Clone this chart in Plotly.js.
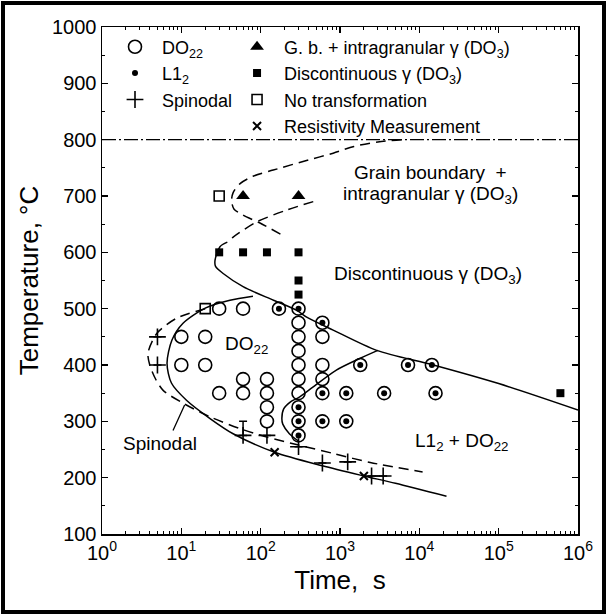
<!DOCTYPE html>
<html><head><meta charset="utf-8">
<script src="https://cdn.plot.ly/plotly-3.0.1.min.js"></script>
<style>
html,body{margin:0;padding:0;background:#fff;}
#chart{width:607px;height:615px;}
#frame{position:absolute;left:1px;top:1px;width:597px;height:605px;border:4px solid #000;pointer-events:none;}
</style></head><body>
<div id="chart"></div><div id="frame"></div>
<script>
// ---- data (time in s, temperature in °C) ----
const do22Time = [10,10,20,20,30,30,60,60,60,120,120,120,120,170,300,300,300,300,300,300,300,300,300,300,600,600,600,600,600,600,1200,1200,1800,3600,7200,14400,16000];
const do22Temp = [450,400,450,400,500,350,500,375,350,375,350,325,300,500,500,475,450,425,400,375,350,325,300,275,475,450,400,375,350,300,350,300,400,350,400,400,350];
const l12Time = [170,300,300,300,300,600,600,600,1200,1200,1800,3600,7200,14400,16000];
const l12Temp = [500,500,325,300,275,475,350,300,350,300,400,350,400,400,350];
const spinTime = [5,5,60,120,300,600,1250,2500,3500];
const spinTemp = [450,400,275,275,255,226,228,203,203];
const spinBar = [0,0,25,0,0,0,0,0,0];
const gbTime = [60,300];
const gbTemp = [700,700];
const discTime = [30,60,120,300,300,300,600000];
const discTemp = [600,600,600,600,550,525,350];
const noTrTime = [30,20];
const noTrTemp = [700,500];
const resTime = [150,2000];
const resTemp = [245,203];
// boundary curves
const gbCurveTime = [6000,3000,1500,820,400,144,80,55,45,43,46,60,98,190];
const gbCurveTemp = [800,796,788,776,764,746,735,722,706,692,677,666,652,630];
const discDashTime = [460,213,89,45,38];
const discDashTemp = [690,675,654,627,618];
const discSolidTime = [38,30.7,26.6,27,34,60,145,285,380,820,2900,15000,100000,1000000];
const discSolidTemp = [618,610,586,575,562,539,515,497,485,462,426,400,367,320];
const do22CurveTime = [80,41,20,10.5,7.6,6.6,7.5,11.7,23,45,150,600,2000,5000,22000];
const do22CurveTemp = [522,515,501,474,444,403,368,337,305,278,245,221,203,190,167];
const spinCurveTime = [20,8.7,4.9,3.8,4.0,4.7,5.9,10.6,23,55,120,300,820,2400,11000];
const spinCurveTemp = [500,483,456,421,400,376,355,332,308,287,272,258,243,227,210];
const l12CurveTime = [300,230,190,185,195,240,300,420,900,1800,3000];
const l12CurveTemp = [265,278,295,305,322,335,342,357,391,412,426];
const line800Time = [1,1000000];
const line800Temp = [800,800];
const xTickVals = [1,10,100,1000,10000,100000,1000000];
const xTickText = ['10<sup>0</sup>','10<sup>1</sup>','10<sup>2</sup>','10<sup>3</sup>','10<sup>4</sup>','10<sup>5</sup>','10<sup>6</sup>'];
const yTickVals = [100,200,300,400,500,600,700,800,900,1000];

const FONT = 'Liberation Sans, Arial, Helvetica, sans-serif';
const BLK = '#000';
const minorX = [];
for (let d = 1; d < 1000000; d *= 10) for (let k = 2; k <= 9; k++) minorX.push(d * k);

function curve(x, y, dash, w) {
  return {x: x, y: y, mode: 'lines', type: 'scatter', showlegend: false, hoverinfo: 'skip',
    line: {color: BLK, width: w || 1.5, dash: dash || 'solid', shape: 'spline', smoothing: 0.8}};
}

const traces = [
  {x: line800Time, y: line800Temp, mode: 'lines', showlegend: false, line: {color: BLK, width: 1.2, dash: '14px,3px,2px,3px'}},
  curve(gbCurveTime, gbCurveTemp, '10px,6px'),
  curve(discDashTime, discDashTemp, '10px,6px'),
  curve(discSolidTime, discSolidTemp),
  curve(do22CurveTime, do22CurveTemp),
  curve(spinCurveTime, spinCurveTemp, '10px,6px'),
  curve(l12CurveTime, l12CurveTemp),
  // legend column 1
  {x: do22Time, y: do22Temp, name: 'DO<sub>22</sub>', mode: 'markers', legend: 'legend',
   marker: {symbol: 'circle-open', size: 13, color: BLK, line: {width: 1.6, color: BLK}}},
  {x: l12Time, y: l12Temp, name: 'L1<sub>2</sub>', mode: 'markers', legend: 'legend',
   marker: {symbol: 'circle', size: 6, color: BLK}},
  {x: spinTime, y: spinTemp, name: 'Spinodal', mode: 'markers', legend: 'legend',
   error_y: {type: 'data', array: spinBar, arrayminus: spinBar.map(() => 0), symmetric: false, color: BLK, thickness: 1.5, width: 4},
   marker: {symbol: 'cross-thin-open', size: 12, color: BLK, line: {width: 1.6, color: BLK}}},
  // legend column 2
  {x: gbTime, y: gbTemp, name: 'G. b. + intragranular γ (DO<sub>3</sub>)', mode: 'markers', legend: 'legend2',
   marker: {symbol: 'triangle-up', size: 12, color: BLK}},
  {x: discTime, y: discTemp, name: 'Discontinuous γ (DO<sub>3</sub>)', mode: 'markers', legend: 'legend2',
   marker: {symbol: 'square', size: 8, color: BLK}},
  {x: noTrTime, y: noTrTemp, name: 'No transformation', mode: 'markers', legend: 'legend2',
   marker: {symbol: 'square-open', size: 10, color: BLK, line: {width: 1.6, color: BLK}}},
  {x: resTime, y: resTemp, name: 'Resistivity Measurement', mode: 'markers', legend: 'legend2',
   marker: {symbol: 'x-thin-open', size: 8, color: BLK, line: {width: 2, color: BLK}}}
];

const ann = (x, y, text, size, extra) => Object.assign({x: Math.log10(x), y: y, xref: 'x', yref: 'y', text: text, showarrow: false,
  font: {family: FONT, size: size || 19, color: BLK}}, extra || {});

const layout = {
  width: 607, height: 615,
  margin: {l: 102, r: 29, t: 27, b: 81},
  paper_bgcolor: '#fff', plot_bgcolor: '#fff',
  font: {family: FONT, color: BLK},
  xaxis: {type: 'log', range: [0, 6], showgrid: false, zeroline: false,
    showline: true, linecolor: BLK, linewidth: 1.5, mirror: 'ticks',
    ticks: 'inside', ticklen: 6, tickwidth: 1.2, tickcolor: BLK,
    tickmode: 'array', tickvals: xTickVals, ticktext: xTickText,
    tickfont: {family: FONT, size: 20, color: BLK},
    minor: {tickmode: 'array', tickvals: minorX, ticks: 'inside', ticklen: 3, tickwidth: 1, tickcolor: BLK},
    title: {text: 'Time,  s', font: {family: FONT, size: 26, color: BLK}, standoff: 8}},
  yaxis: {range: [100, 1000], showgrid: false, zeroline: false,
    showline: true, linecolor: BLK, linewidth: 1.5, mirror: 'ticks',
    ticks: 'inside', ticklen: 6, tickwidth: 1.2, tickcolor: BLK,
    tickmode: 'array', tickvals: yTickVals,
    tickfont: {family: FONT, size: 20, color: BLK},
    minor: {dtick: 50, ticks: 'inside', ticklen: 3, tickwidth: 1, tickcolor: BLK},
    title: {text: 'Temperature, °C', font: {family: FONT, size: 26, color: BLK}, standoff: 6}},
  legend: {x: 0.0126, y: 0.997, xanchor: 'left', yanchor: 'top', bgcolor: 'rgba(0,0,0,0)',
    font: {family: FONT, size: 18, color: BLK}, tracegroupgap: 0, itemwidth: 44},
  legend2: {x: 0.269, y: 0.997, xanchor: 'left', yanchor: 'top', bgcolor: 'rgba(0,0,0,0)',
    font: {family: FONT, size: 18, color: BLK}, tracegroupgap: 0, itemwidth: 44},
  annotations: [
    ann(14000, 742, 'Grain boundary  +'),
    ann(14000, 701, 'intragranular γ (DO<sub>3</sub>)'),
    ann(13000, 560, 'Discontinuous γ (DO<sub>3</sub>)'),
    ann(67, 435, 'DO<sub>22</sub>'),
    ann(34000, 263, 'L1<sub>2</sub> + DO<sub>22</sub>'),
    ann(5.4, 260, 'Spinodal'),
    {x: Math.log10(11), y: 329, xref: 'x', yref: 'y', ax: Math.log10(7.2), ay: 272, axref: 'x', ayref: 'y',
     text: ' ', showarrow: true, arrowhead: 0, arrowwidth: 1.3, arrowcolor: BLK}
  ]
};

Plotly.newPlot('chart', traces, layout, {displayModeBar: false, staticPlot: true});
</script>
</body></html>
